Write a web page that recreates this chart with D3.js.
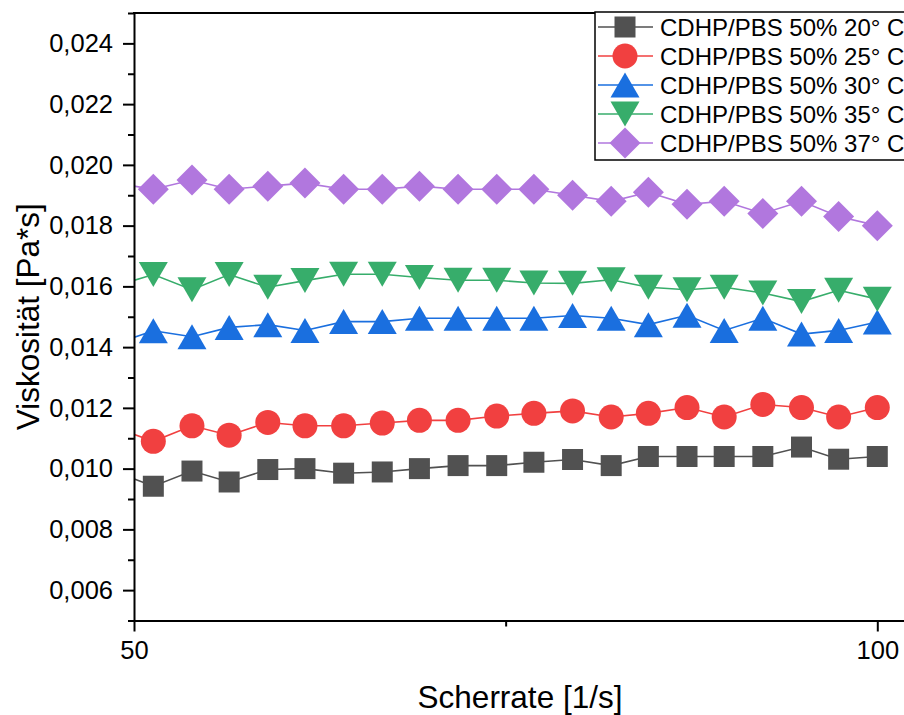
<!DOCTYPE html>
<html lang="en">

<head>
  <meta charset="UTF-8">
  <script src="https://d3js.org/d3.v7.min.js"></script>
  <style>
    body { margin: 0; background: #fff; }
    text { font-family: "Liberation Sans", Arial, sans-serif; fill: #000; }
  </style>
</head>

<body>
  <svg id="chart" width="904" height="715"></svg>

  <script>
    // shear rate values (first one lies left of the axis and is clipped)
    const shear = [48.7, 51.3, 53.9, 56.4, 59.0, 61.5, 64.1, 66.7, 69.2, 71.8, 74.4,
      76.9, 79.5, 82.1, 84.6, 87.2, 89.7, 92.3, 94.9, 97.4, 100];

    const visc20 = [0.0099, 0.00942, 0.00992, 0.00956, 0.00997, 0.0100, 0.00985, 0.00989, 0.0100, 0.0101, 0.0101,
      0.01021, 0.0103, 0.0101, 0.0104, 0.0104, 0.0104, 0.0104, 0.01071, 0.01031, 0.0104];
    const visc25 = [0.01136, 0.0109, 0.01141, 0.0111, 0.01152, 0.01141, 0.01141, 0.0115, 0.01159, 0.01159, 0.01173,
      0.01182, 0.0119, 0.0117, 0.01182, 0.01201, 0.0117, 0.01211, 0.01201, 0.0117, 0.01201];
    const visc30 = [0.0141, 0.01454, 0.01434, 0.01465, 0.01474, 0.01455, 0.01484, 0.01484, 0.01495, 0.01495, 0.01495,
      0.01495, 0.01504, 0.01495, 0.01474, 0.01505, 0.01455, 0.01495, 0.01443, 0.01455, 0.01483];
    const visc35 = [0.0160, 0.01639, 0.01589, 0.01639, 0.01597, 0.01619, 0.0164, 0.0164, 0.01629, 0.0162, 0.0162,
      0.01611, 0.0161, 0.01622, 0.01597, 0.01589, 0.01597, 0.01578, 0.0155, 0.01587, 0.01558];
    const visc37 = [0.0194, 0.0192, 0.0195, 0.0192, 0.0193, 0.0194, 0.0192, 0.0192, 0.0193, 0.0192, 0.0192,
      0.0192, 0.0190, 0.0188, 0.0191, 0.0187, 0.0188, 0.0184, 0.0188, 0.0183, 0.0180];

    const seriesNames = ["CDHP/PBS 50% 20° C", "CDHP/PBS 50% 25° C", "CDHP/PBS 50% 30° C",
      "CDHP/PBS 50% 35° C", "CDHP/PBS 50% 37° C"];
    const seriesValues = [visc20, visc25, visc30, visc35, visc37];
    const seriesColors = ["#515151", "#F14040", "#1A6FDF", "#37AD6B", "#B177DE"];
    const seriesShapes = ["square", "circle", "triangleUp", "triangleDown", "diamond"];

    const yMajorTicks = [0.006, 0.008, 0.010, 0.012, 0.014, 0.016, 0.018, 0.020, 0.022, 0.024];
    const yMinorTicks = [0.005, 0.007, 0.009, 0.011, 0.013, 0.015, 0.017, 0.019, 0.021, 0.023, 0.025];
    const xMajorTicks = [50, 100];
    const xMinorTicks = [75];

    const svg = d3.select("#chart");
    const plot = { left: 134, right: 910, top: 13, bottom: 620.5 };

    const x = d3.scaleLinear().domain([50, 102.2]).range([plot.left, plot.right]);
    const y = d3.scaleLinear().domain([0.005, 0.025]).range([plot.bottom, plot.top]);

    svg.append("clipPath").attr("id", "clip")
      .append("rect")
      .attr("x", plot.left).attr("y", plot.top)
      .attr("width", plot.right - plot.left).attr("height", plot.bottom - plot.top);

    // marker shapes, sized by eye
    function markerPath(shape, s) {
      s = s || 1;
      if (shape === "square") { const h = 10.5 * s; return `M${-h},${-h}H${h}V${h}H${-h}Z`; }
      if (shape === "circle") { const r = 12.5 * s; return `M${r},0A${r},${r} 0 1,1 ${-r},0A${r},${r} 0 1,1 ${r},0Z`; }
      if (shape === "triangleUp") { const w = 14.5 * s, h = 12.5 * s; return `M0,${-h}L${w},${h}L${-w},${h}Z`; }
      if (shape === "triangleDown") { const w = 14.5 * s, h = 12.5 * s; return `M0,${h}L${w},${-h}L${-w},${-h}Z`; }
      const d = 15.5 * s; return `M0,${-d}L${d},0L0,${d}L${-d},0Z`;
    }

    const data = seriesValues.map((vals, i) => ({
      name: seriesNames[i], color: seriesColors[i], shape: seriesShapes[i],
      points: vals.map((v, j) => ({ x: shear[j], y: v }))
    }));

    const line = d3.line().x(d => x(d.x)).y(d => y(d.y));

    const marks = svg.append("g").attr("clip-path", "url(#clip)");

    const groups = marks.selectAll("g.series").data(data)
      .join("g")
      .attr("class", "series");

    groups.append("path")
      .attr("d", d => line(d.points))
      .attr("fill", "none")
      .attr("stroke", d => d.color)
      .attr("stroke-width", 1.6);

    groups.each(function (d) {
      d3.select(this).selectAll("path.marker").data(d.points)
        .join("path")
        .attr("class", "marker")
        .attr("transform", p => `translate(${x(p.x)},${y(p.y)})`)
        .attr("d", markerPath(d.shape))
        .attr("fill", d.color);
    });

    // axes
    const fmt = v => d3.format(".3f")(v).replace(".", ",");

    const yAxis = svg.append("g")
      .attr("transform", `translate(${plot.left},0)`)
      .call(d3.axisLeft(y).tickValues(yMajorTicks).tickFormat(fmt).tickSize(11).tickSizeOuter(0).tickPadding(10));
    svg.append("g")
      .attr("transform", `translate(${plot.left},0)`)
      .call(d3.axisLeft(y).tickValues(yMinorTicks).tickFormat("").tickSize(6).tickSizeOuter(0))
      .call(g => g.select(".domain").remove());

    const xAxis = svg.append("g")
      .attr("transform", `translate(0,${plot.bottom})`)
      .call(d3.axisBottom(x).tickValues(xMajorTicks).tickFormat(d3.format("d")).tickSize(11).tickSizeOuter(0).tickPadding(9));
    svg.append("g")
      .attr("transform", `translate(0,${plot.bottom})`)
      .call(d3.axisBottom(x).tickValues(xMinorTicks).tickFormat("").tickSize(6).tickSizeOuter(0))
      .call(g => g.select(".domain").remove());

    svg.selectAll(".tick line, .domain").attr("stroke", "#000").attr("stroke-width", 2);
    svg.selectAll(".tick text").style("font-size", "25.5px").attr("fill", "#000")
      .style("font-family", "'Liberation Sans', Arial, sans-serif");

    // top frame
    svg.append("line")
      .attr("x1", plot.left - 1).attr("x2", plot.right)
      .attr("y1", plot.top).attr("y2", plot.top)
      .attr("stroke", "#000").attr("stroke-width", 2);

    // axis titles
    svg.append("text")
      .attr("x", (plot.left + plot.right) / 2 - 2)
      .attr("y", 708)
      .attr("text-anchor", "middle")
      .style("font-size", "31.5px")
      .text("Scherrate [1/s]");

    svg.append("text")
      .attr("transform", `translate(39,${(plot.top + plot.bottom) / 2}) rotate(-90)`)
      .attr("text-anchor", "middle")
      .style("font-size", "31.5px")
      .text("Viskosität [Pa*s]");

    // legend
    const legend = svg.append("g");
    legend.append("rect")
      .attr("x", 595).attr("y", 12)
      .attr("width", 330).attr("height", 148)
      .attr("fill", "#fff")
      .attr("stroke", "#000").attr("stroke-width", 1.5);

    const rows = legend.selectAll("g.row").data(data)
      .join("g")
      .attr("class", "row")
      .attr("transform", (d, i) => `translate(0,${27 + i * 29})`);

    rows.append("line")
      .attr("x1", 598).attr("x2", 653)
      .attr("stroke", d => d.color).attr("stroke-width", 1.6);
    rows.append("path")
      .attr("transform", "translate(625,0)")
      .attr("d", d => markerPath(d.shape, 1))
      .attr("fill", d => d.color);
    rows.append("text")
      .attr("x", 660).attr("dy", "0.36em")
      .style("font-size", "24px")
      .text(d => d.name);
  </script>
</body>

</html>
